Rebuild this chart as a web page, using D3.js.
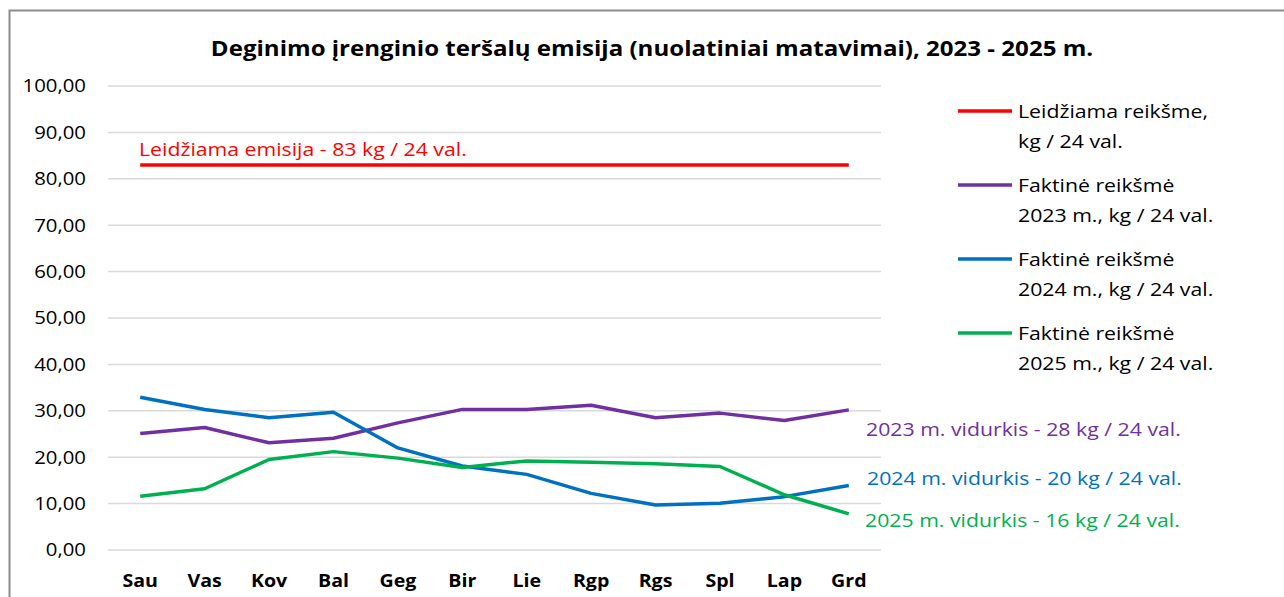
<!DOCTYPE html>
<html>
<head>
<meta charset="utf-8">
<script src="https://cdn.jsdelivr.net/npm/d3@7"></script>
<style>
  body { margin: 0; background: #fff; }
  svg { font-family: "Open Sans", sans-serif; }
</style>
</head>
<body>
<svg id="svg" width="1284" height="597"></svg>
<script>
// data
var months = ["Sau", "Vas", "Kov", "Bal", "Geg", "Bir", "Lie", "Rgp", "Rgs", "Spl", "Lap", "Grd"];
var limit = [83, 83, 83, 83, 83, 83, 83, 83, 83, 83, 83, 83];
var y2023 = [25.1, 26.4, 23.1, 24.1, 27.4, 30.3, 30.3, 31.2, 28.5, 29.5, 27.9, 30.2];
var y2024 = [32.9, 30.3, 28.5, 29.7, 22.0, 18.1, 16.3, 12.2, 9.7, 10.1, 11.5, 13.9];
var y2025 = [11.6, 13.2, 19.5, 21.2, 19.8, 17.8, 19.2, 18.9, 18.6, 18.0, 11.9, 7.8];
var yTicks = [0, 10, 20, 30, 40, 50, 60, 70, 80, 90, 100];
var legendNames = [
  ["Leidžiama reikšme,", "kg / 24 val."],
  ["Faktinė reikšmė", "2023 m., kg / 24 val."],
  ["Faktinė reikšmė", "2024 m., kg / 24 val."],
  ["Faktinė reikšmė", "2025 m., kg / 24 val."]
];
var avgLabels = [
  "2023 m. vidurkis - 28 kg / 24 val.",
  "2024 m. vidurkis - 20 kg / 24 val.",
  "2025 m. vidurkis - 16 kg / 24 val."
];
var title = "Deginimo įrenginio teršalų emisija (nuolatiniai matavimai), 2023 - 2025 m.";

var series = [
  {values: limit, color: "#ff0000"},
  {values: y2023, color: "#7030a0"},
  {values: y2024, color: "#0070c0"},
  {values: y2025, color: "#00b050"}
];

var svg = d3.select("#svg");
var plot = {left: 108, right: 881, top: 86, bottom: 550};
var fs = 18.5;
var sx = 1.15;   // text in the picture is a bit wider than Open Sans

// text placed at x,y and stretched horizontally
function label(parent, x, y, txt, size, sxx){
  return parent.append("g")
    .attr("transform", "translate(" + x + "," + y + ") scale(" + sxx + ",1)")
    .append("text")
    .attr("font-size", size)
    .text(txt);
}

// outer frame
svg.append("path")
  .attr("d", "M9.5,597 V10.5 H1284")
  .attr("fill", "none")
  .attr("stroke", "#8c8c8c")
  .attr("stroke-width", 2);

var xScale = d3.scaleBand().domain(months).range([plot.left, plot.right]);
var yScale = d3.scaleLinear().domain([0, 100]).range([plot.bottom, plot.top]);
var xc = function(d){ return xScale(d) + xScale.bandwidth() / 2; };

// grid
svg.append("g").selectAll("line")
  .data(yTicks)
  .enter().append("line")
  .attr("x1", plot.left).attr("x2", plot.right)
  .attr("y1", d => yScale(d)).attr("y2", d => yScale(d))
  .attr("stroke", "#d9d9d9").attr("stroke-width", 1.5);

// y axis labels
var yAxis = svg.append("g")
  .attr("transform", "translate(" + (plot.left - 22) + ",0)")
  .call(d3.axisLeft(yScale).tickValues(yTicks).tickSize(0).tickPadding(0)
    .tickFormat(d => d3.format(".2f")(d).replace(".", ",")));
yAxis.select(".domain").remove();
yAxis.selectAll("text").attr("font-size", fs).attr("fill", "#000")
  .attr("font-family", "Open Sans").attr("transform", "scale(1.1,1)");

// x axis labels
var xAxis = svg.append("g")
  .attr("transform", "translate(0," + (plot.bottom + 24) + ")")
  .call(d3.axisBottom(xScale).tickSize(0).tickPadding(0));
xAxis.select(".domain").remove();
xAxis.selectAll("text").attr("font-size", fs).attr("font-weight", "bold")
  .attr("fill", "#000").attr("font-family", "Open Sans")
  .attr("transform", "scale(1.06,1)");

// lines
var line = d3.line()
  .x((d, i) => xc(months[i]))
  .y(d => yScale(d));

series.forEach(function(s){
  svg.append("path")
    .datum(s.values)
    .attr("d", line)
    .attr("fill", "none")
    .attr("stroke", s.color)
    .attr("stroke-width", 3.5)
    .attr("stroke-linejoin", "round");
});

// title
label(svg, 652, 56, title, 21.5, 1.12)
  .attr("text-anchor", "middle")
  .attr("font-weight", "bold");

// limit annotation
label(svg, 139, 156, "Leidžiama emisija - 83 kg / 24 val.", fs, sx)
  .attr("fill", "#ff0000");

// averages
var avgY = [436, 485, 527];
var avgX = [866, 867, 865];
avgLabels.forEach(function(t, i){
  label(svg, avgX[i], avgY[i], t, fs, sx).attr("fill", series[i + 1].color);
});

// legend
var legend = svg.append("g").attr("transform", "translate(958,111)");
legendNames.forEach(function(n, i){
  var g = legend.append("g").attr("transform", "translate(0," + (i * 74) + ")");
  g.append("line").attr("x1", 0).attr("x2", 54).attr("y1", 0).attr("y2", 0)
    .attr("stroke", series[i].color).attr("stroke-width", 3.5);
  label(g, 60, 7, n[0], fs, sx);
  label(g, 60, 37, n[1], fs, sx);
});
</script>
</body>
</html>
